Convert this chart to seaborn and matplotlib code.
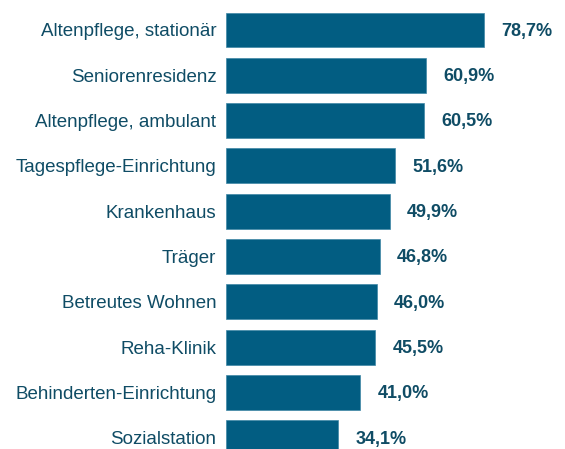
import pandas as pd
import matplotlib.pyplot as plt
import seaborn as sns

# data
categories = ['Altenpflege, stationär', 'Seniorenresidenz', 'Altenpflege, ambulant',
              'Tagespflege-Einrichtung', 'Krankenhaus', 'Träger', 'Betreutes Wohnen',
              'Reha-Klinik', 'Behinderten-Einrichtung', 'Sozialstation']
values = [78.7, 60.9, 60.5, 51.6, 49.9, 46.8, 46.0, 45.5, 41.0, 34.1]
value_labels = ['78,7%', '60,9%', '60,5%', '51,6%', '49,9%', '46,8%', '46,0%',
                '45,5%', '41,0%', '34,1%']

df = pd.DataFrame({'kategorie': categories, 'wert': values})

sns.set_style('white')
plt.rcParams['font.family'] = ['Liberation Sans', 'DejaVu Sans']

bar_color = '#025d82'
text_color = '#0f4c65'

fig = plt.figure(figsize=(5.65, 4.49), dpi=100)
ax = fig.add_axes([226 / 565, 0, 328 / 565, 1])

sns.barplot(data=df, x='wert', y='kategorie', color=bar_color, width=0.77,
            saturation=1, ax=ax, edgecolor='#3f87a6', linewidth=0.5)

for i, (v, lab) in enumerate(zip(values, value_labels)):
    ax.annotate(lab, (v, i), xytext=(12.5, -1), textcoords='offset points',
                va='center', ha='left', fontsize=13, fontweight='bold', color=text_color)

ax.set_xlim(0, 100)
ax.set_ylim(9.25, -0.662)
ax.set_xlabel('')
ax.set_ylabel('')
ax.set_xticks([])
ax.tick_params(axis='y', length=0, pad=7, labelsize=13.5, labelcolor=text_color)
sns.despine(ax=ax, left=True, bottom=True)

plt.savefig('out.png', dpi=100)
